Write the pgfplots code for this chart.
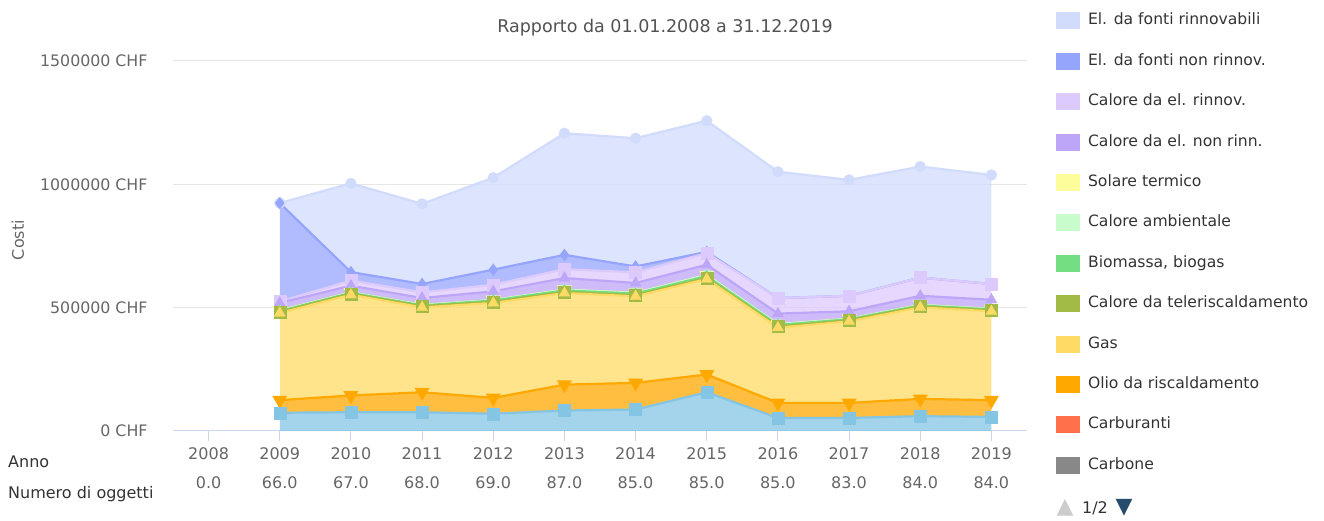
\documentclass[border=0pt]{standalone}
\usepackage{pgfplots}
\pgfplotsset{compat=1.18}
\usepackage{pgfplotstable}
\usepackage{fontspec}
\setmainfont{DejaVu Sans}

\definecolor{cER}{HTML}{D1DBFC}
\definecolor{cENR}{HTML}{95A5FC}
\definecolor{cCR}{HTML}{DCCAFC}
\definecolor{cCNR}{HTML}{BDA6F8}
\definecolor{cSOL}{HTML}{FDFD9C}
\definecolor{cAMB}{HTML}{C8FCCC}
\definecolor{cBIO}{HTML}{74DF82}
\definecolor{cTEL}{HTML}{A2BA46}
\definecolor{cGAS}{HTML}{FFDB66}
\definecolor{cOLIO}{HTML}{FFA800}
\definecolor{cCARB}{HTML}{FF704B}
\definecolor{cCOAL}{HTML}{888888}
\definecolor{cBASE}{HTML}{84C5E4}
\definecolor{cGrid}{HTML}{E6E6E6}
\definecolor{cAxis}{HTML}{CCD6EB}
\definecolor{cLab}{HTML}{666666}
\definecolor{cTxt}{HTML}{333333}
\definecolor{cNav}{HTML}{274B6D}

% values in CHF, stacked bottom to top
\pgfplotstableread{
year base  olio   gas    tele bio  amb  sol  cnr   cr    enr    er
2009 74000 51000  353000 5000 3000 1000 1000 31000 6000  399000 0
2010 76000 68000  408000 5000 3000 1000 1000 27000 21000 34000  360000
2011 76000 81000  344000 5000 3000 1000 1000 28000 23000 34000  325000
2012 70000 64000  385000 5000 5000 1000 1000 35000 27000 61000  373000
2013 83000 105000 371000 5000 6000 2000 1000 47000 36000 58000  493000
2014 87000 108000 351000 5000 6000 2000 1000 40000 43000 24000  520000
2015 157000 72000 387000 5000 7000 3000 1000 42000 47000 5000   532000
2016 53000 61000  305000 5000 6000 2000 1000 43000 63000 0      512000
2017 53000 61000  330000 5000 4000 1000 1000 30000 63000 0      470000
2018 60000 70000  371000 5000 3000 1000 1000 37000 74000 0      450000
2019 57000 68000  360000 5000 3000 1000 1000 37000 64000 0      442000
}\data

\pgfplotsset{
  base/.style={
    scale only axis, width=854pt, height=370pt,
    at={(173pt,90pt)}, anchor=south west,
    xmin=2007.5, xmax=2019.5, ymin=0, ymax=1500000,
    stack plots=y,
  },
  area/.style={fill=#1, fill opacity=0.75, draw=none},
  ln/.style={color=#1, line width=2.2pt, mark options={solid, line width=0.2pt}, mark size=6pt},
}

\begin{document}
\begin{tikzpicture}
\useasboundingbox (0,0) rectangle (1324pt,521pt);
\begin{axis}[base,
  axis x line*=bottom, axis y line*=left,
  y axis line style={draw=none},
  x axis line style={-, draw=cAxis, line width=1pt},
  ytick style={draw=none},
  xtick style={draw=cAxis, line width=1pt},
  tick align=outside, major tick length=10pt,
  ymajorgrids, grid style={cGrid, line width=1pt},
  scaled y ticks=false,
  ytick={0,500000,1000000,1500000},
  yticklabels={0 CHF,500000 CHF,1000000 CHF,1500000 CHF},
  yticklabel style={font=\fontsize{15.8}{19}\selectfont, text=cLab, xshift=-12pt},
  xtick={2008,...,2019},
  xticklabels={{2008\\0.0},{2009\\66.0},{2010\\67.0},{2011\\68.0},{2012\\69.0},{2013\\87.0},{2014\\85.0},{2015\\85.0},{2016\\85.0},{2017\\83.0},{2018\\84.0},{2019\\84.0}},
  xticklabel style={align=center, font=\fontsize{16}{29}\selectfont, text=cLab, yshift=-3pt},
]
\addplot[area=cBASE] table[x=year,y=base]{\data} \closedcycle;
\addplot[area=cOLIO] table[x=year,y=olio]{\data} \closedcycle;
\addplot[area=cGAS] table[x=year,y=gas]{\data} \closedcycle;
\addplot[area=cTEL] table[x=year,y=tele]{\data} \closedcycle;
\addplot[area=cBIO] table[x=year,y=bio]{\data} \closedcycle;
\addplot[area=cAMB] table[x=year,y=amb]{\data} \closedcycle;
\addplot[area=cSOL] table[x=year,y=sol]{\data} \closedcycle;
\addplot[area=cCNR] table[x=year,y=cnr]{\data} \closedcycle;
\addplot[area=cCR] table[x=year,y=cr]{\data} \closedcycle;
\addplot[area=cENR] table[x=year,y=enr]{\data} \closedcycle;
\addplot[area=cER] table[x=year,y=er]{\data} \closedcycle;
\end{axis}
\begin{axis}[base, hide axis,
  reverse legend,
  legend cell align=left,
  legend image code/.code={\fill[#1, draw=none, fill opacity=1] (0pt,-8.5pt) rectangle (24pt,8.5pt); \path[draw=none, fill=none] (0pt,0pt) rectangle (32pt,0.1pt);},
  legend style={at={(1.0340,1.1311)}, anchor=north west, draw=none, fill=none,
    inner sep=0pt, outer sep=0pt, row sep=23.4pt,
    font=\fontsize{15.6}{19}\selectfont, text=cTxt,
    nodes={inner sep=0pt, text height=11.5pt, text depth=3.5pt},
    cells={anchor=west}},
]
\addplot[ln=cBASE, mark=square*, forget plot] table[x=year,y=base]{\data};
\addlegendimage{color=cCOAL}\addlegendentry{Carbone}
\addlegendimage{color=cCARB}\addlegendentry{Carburanti}
\addplot[ln=cOLIO, mark=triangle*, mark size=6.5pt, mark options={rotate=180}] table[x=year,y=olio]{\data};
\addlegendentry{Olio da riscaldamento}
\addplot[ln=cGAS, mark=triangle*, mark size=6.5pt] table[x=year,y=gas]{\data};
\addlegendentry{Gas}
\addplot[ln=cTEL, mark=square*] table[x=year,y=tele]{\data};
\addlegendentry{Calore da teleriscaldamento}
\addplot[ln=cBIO, mark=diamond*] table[x=year,y=bio]{\data};
\addlegendentry{Biomassa, biogas}
\addplot[ln=cAMB, mark=*, mark size=5.5pt] table[x=year,y=amb]{\data};
\addlegendentry{Calore ambientale}
\addplot[ln=cSOL, mark=triangle*, mark size=6.5pt, mark options={rotate=180}] table[x=year,y=sol]{\data};
\addlegendentry{Solare termico}
\addplot[ln=cCNR, mark=triangle*, mark size=6.5pt] table[x=year,y=cnr]{\data};
\addlegendentry{Calore da el. non rinn.}
\addplot[ln=cCR, mark=square*] table[x=year,y=cr]{\data};
\addlegendentry{Calore da el. rinnov.}
\addplot[ln=cENR, mark=diamond*] table[x=year,y=enr]{\data};
\addlegendentry{El. da fonti non rinnov.}
\addplot[ln=cER, mark=*, mark size=5.5pt] table[x=year,y=er]{\data};
\addlegendentry{El. da fonti rinnovabili}
\end{axis}
\node[font=\fontsize{17.5}{21}\selectfont, text=cTxt!85] at (665pt,493pt) {Rapporto da 01.01.2008 a 31.12.2019};
\node[font=\fontsize{16}{19}\selectfont, text=cLab, rotate=90] at (18pt,281pt) {Costi};
\node[font=\fontsize{16}{19}\selectfont, text=cTxt, anchor=west, inner sep=0pt] at (8pt,59pt) {Anno};
\node[font=\fontsize{16}{19}\selectfont, text=cTxt, anchor=west, inner sep=0pt] at (8pt,27pt) {Numero di oggetti};
\node[font=\fontsize{22}{24}\selectfont, text=black!20, inner sep=0pt] at (1065pt,13pt) {▲};
\node[font=\fontsize{16}{19}\selectfont, text=cTxt, inner sep=0pt] at (1095pt,13pt) {1/2};
\node[font=\fontsize{22}{24}\selectfont, text=cNav, inner sep=0pt] at (1124pt,13pt) {▼};
\end{tikzpicture}
\end{document}
